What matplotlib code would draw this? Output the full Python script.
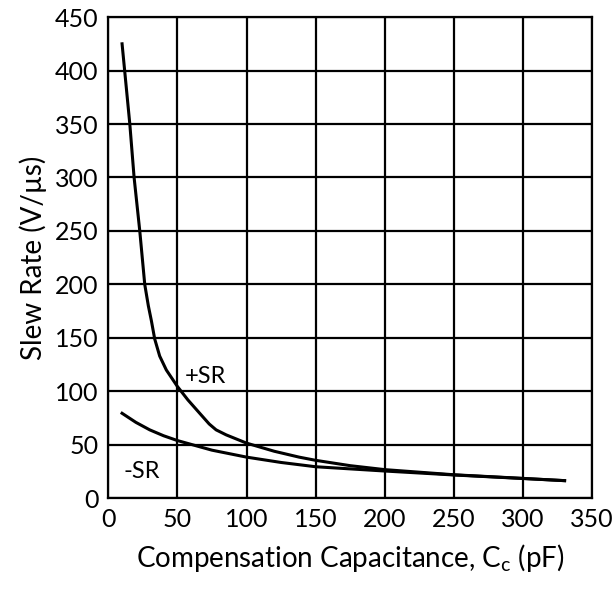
import matplotlib
matplotlib.use("Agg")
import matplotlib.pyplot as plt

plt.rcParams['font.family'] = ['Lato', 'DejaVu Sans']

# +SR curve
pos_cc = [10, 15.6, 18.7, 22.8, 26.4, 29, 31.2, 33.6, 37.2, 42, 50, 57.6, 66, 73, 78, 85.3, 100, 120, 138, 150, 175, 200, 250, 300, 330]
pos_sr = [425, 350, 300, 250, 200, 180, 166, 149, 133, 120, 104.6, 92, 79.7, 69.5, 64, 59.3, 51.6, 44, 38.5, 35.5, 30.5, 26.8, 22, 18.6, 16.5]

# -SR curve
neg_cc = [10, 20, 30, 40, 50, 75, 100, 125, 150, 200, 250, 300, 330]
neg_sr = [79.5, 71, 64, 58.5, 54, 45, 38.5, 33.5, 29.5, 25.5, 21.8, 18.5, 16.5]

x_ticks = [0, 50, 100, 150, 200, 250, 300, 350]
y_ticks = [0, 50, 100, 150, 200, 250, 300, 350, 400, 450]

fig = plt.figure(figsize=(6.15, 5.89), dpi=100)
ax = fig.add_axes([0.176, 0.154, 0.787, 0.817])

ax.plot(pos_cc, pos_sr, color='black', lw=2.2)
ax.plot(neg_cc, neg_sr, color='black', lw=2.2)

ax.text(55, 114, '+SR', fontsize=17, va='center', ha='left')
ax.text(11, 25, '-SR', fontsize=17, va='center', ha='left')

ax.set_xlim(0, 350)
ax.set_ylim(0, 450)
ax.set_xticks(x_ticks)
ax.set_yticks(y_ticks)
ax.tick_params(length=0, labelsize=18, pad=7)
ax.grid(True, color='black', lw=1.6)
for s in ax.spines.values():
    s.set_linewidth(1.6)

ax.set_xlabel('Compensation Capacitance, C$_\\mathregular{c}$ (pF)', fontsize=20, labelpad=8)
ax.set_ylabel('Slew Rate (V/µs)', fontsize=20, labelpad=6)

fig.savefig('out.png', dpi=100)
